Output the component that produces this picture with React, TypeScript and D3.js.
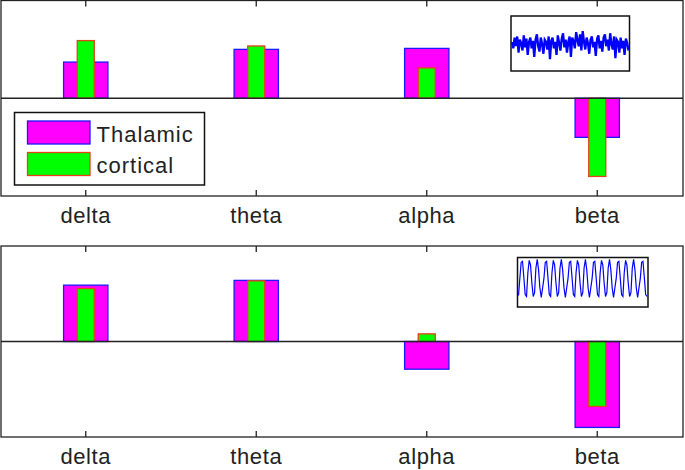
import React from "react";
import * as d3 from "d3";

const width = 685;
const height = 470;

// Frequency bands
const bands = ["delta", "theta", "alpha", "beta"];
const seriesNames = ["Thalamic", "cortical"];

// Top panel (irregular input)
const topThalamic = [0.37, 0.5, 0.51, -0.4];
const topCortical = [0.59, 0.535, 0.31, -0.8];

// Bottom panel (periodic input)
const bottomThalamic = [0.59, 0.64, -0.29, -0.9];
const bottomCortical = [0.555, 0.635, 0.08, -0.68];

// Inset traces
const noiseTrace = [
  0.1, -0.2, 0.3, -0.1, 0.35, -0.4, 0.2, 0.05, -0.3, 0.4, -0.15, 0.25, -0.5, 0.1,
  0.3, -0.2, 0.15, -0.6, 0.2, 0.45, -0.1, -0.35, 0.3, 0.0, -0.45, 0.2, 0.1, -0.25,
  0.35, -0.7, 0.15, 0.3, -0.2, 0.1, -0.5, 0.4, 0.05, -0.3, 0.25, 0.5, -0.15, 0.2,
  -0.4, 0.1, 0.35, -0.6, 0.3, 0.15, -0.2, 0.55, 0.2, -0.1, 0.45, -0.3, 0.6, 0.1,
  -0.25, 0.3, 0.05, -0.45, 0.2, 0.35, -0.15, 0.1, -0.55, 0.25, 0.4, -0.2, 0.15,
  -0.35, 0.3, 0.45, -0.1, 0.2, -0.3, 0.5, 0.0, -0.25, 0.35, -0.65, 0.2, 0.1, -0.4,
  0.3, -0.2, 0.15, -0.5, 0.25, 0.05, -0.3,
];

const sineTrace = [
  -0.9, 0.0, 0.85, 0.9, 0.05, -0.85, -0.95, 0.3, 0.95, 0.7, -0.25, -0.95, -0.75,
  0.55, 1.0, 0.45, -0.5, -1.0, -0.5, 0.0, 0.85, 0.9, 0.05, -0.85, -0.95, 0.3,
  0.95, 0.7, -0.25, -0.95, -0.75, 0.55, 1.0, 0.45, -0.5, -1.0, -0.5, 0.0, 0.85,
  0.9, 0.05, -0.85, -0.95, 0.3, 0.95, 0.7, -0.25, -0.95, -0.75, 0.55, 1.0, 0.45,
  -0.5, -1.0, -0.5, 0.0, 0.85, 0.9, 0.05, -0.85, -0.95, 0.3, 0.95, 0.7, -0.25,
  -0.95, -0.75, 0.55, 1.0, 0.45, -0.5, -1.0, -0.5, 0.0, 0.85, 0.9, 0.05, -0.85,
  -0.95, 0.3, 0.95, 0.7, -0.25, -0.95, -0.75, 0.55, 1.0, 0.45, -0.5, -1.0, -0.5,
  0.0, 0.85, 0.9, 0.05, -0.85, -0.95,
];

const left = 1;
const right = 683;
const font = "'Liberation Sans', Arial, sans-serif";

const xScale = d3
  .scaleLinear()
  .domain([0.5, bands.length + 0.5])
  .range([left - 0.5, right - 0.5]);

const thalamicWidth = 0.26;
const corticalWidth = 0.1;

type PanelProps = {
  top: number;
  bottom: number;
  thalamic: number[];
  cortical: number[];
  inset: { x0: number; x1: number; y0: number; y1: number; yDomain: [number, number] };
  trace: number[];
  traceWidth: number;
  legend?: boolean;
};

function Panel({ top, bottom, thalamic, cortical, inset, trace, traceWidth, legend }: PanelProps) {
  const yScale = d3.scaleLinear().domain([-1, 1]).range([bottom, top]);
  const zero = yScale(0);

  const tx = d3
    .scaleLinear()
    .domain([0, trace.length - 1])
    .range([inset.x0 + 1, inset.x1 - 1]);
  const ty = d3.scaleLinear().domain(inset.yDomain).range([inset.y1, inset.y0]);
  const tracePath = d3
    .line<number>()
    .x((_, i) => tx(i))
    .y(d => ty(d))(trace);

  const bar = (v: number, i: number, w: number) => {
    const x0 = xScale(i + 1 - w / 2);
    const x1 = xScale(i + 1 + w / 2);
    return {
      x: x0,
      width: x1 - x0,
      y: Math.min(yScale(v), zero),
      height: Math.abs(yScale(v) - zero),
    };
  };

  return (
    <g>
      {/* Bars */}
      {thalamic.map((v, i) => {
        const b = bar(v, i, thalamicWidth);
        return (
          <rect key={"t" + i} x={b.x} y={b.y} width={b.width} height={b.height}
            fill="#ff00ff" stroke="#1a1aff" strokeWidth={1.3} />
        );
      })}
      {cortical.map((v, i) => {
        const b = bar(v, i, corticalWidth);
        return (
          <rect key={"c" + i} x={b.x} y={b.y} width={b.width} height={b.height}
            fill="#00ff00" stroke="#e8401a" strokeWidth={1.3} />
        );
      })}

      {/* Zero line */}
      <line x1={left} x2={right} y1={zero} y2={zero} stroke="#222" strokeWidth={1.3} />

      {/* Axes box */}
      <rect x={left} y={top} width={right - left} height={bottom - top}
        fill="none" stroke="#222" strokeWidth={1.3} />

      {/* Ticks and labels */}
      {bands.map((b, i) => (
        <g key={b}>
          <line x1={xScale(i + 1)} x2={xScale(i + 1)} y1={top} y2={top + 6} stroke="#222" strokeWidth={1.3} />
          <line x1={xScale(i + 1)} x2={xScale(i + 1)} y1={bottom} y2={bottom - 6} stroke="#222" strokeWidth={1.3} />
          <text x={xScale(i + 1)} y={bottom + 26.5} textAnchor="middle" fontSize={22}
            fontFamily={font} fill="#222" letterSpacing={0.6}>
            {b}
          </text>
        </g>
      ))}

      {/* Inset trace */}
      <rect x={inset.x0} y={inset.y0} width={inset.x1 - inset.x0} height={inset.y1 - inset.y0}
        fill="#fff" stroke="#111" strokeWidth={1.5} />
      <path d={tracePath ?? ""} fill="none" stroke="#0000ff" strokeWidth={traceWidth} />

      {/* Legend */}
      {legend && (
        <g>
          <rect x={14.5} y={112.5} width={190} height={72.5} fill="#fff" stroke="#111" strokeWidth={1.5} />
          {seriesNames.map((name, i) => (
            <g key={name}>
              <rect x={27.5} y={121 + i * 31.5} width={62.5} height={23}
                fill={i === 0 ? "#ff00ff" : "#00ff00"}
                stroke={i === 0 ? "#1a1aff" : "#e8401a"} strokeWidth={1.3} />
              <text x={96.5} y={141.5 + i * 31} fontSize={22} fontFamily={font}
                fill="#222" letterSpacing={1}>
                {name}
              </text>
            </g>
          ))}
        </g>
      )}
    </g>
  );
}

export default function App() {
  return (
    <svg width={width} height={height}
      style={{ position: "absolute", left: 0, top: 0, background: "#fff" }}>
      <Panel top={0.5} bottom={196} thalamic={topThalamic} cortical={topCortical}
        inset={{ x0: 511, x1: 629.5, y0: 16, y1: 71, yDomain: [-1.25, 1.3] }}
        trace={noiseTrace} traceWidth={2.3} legend />
      <Panel top={246} bottom={437} thalamic={bottomThalamic} cortical={bottomCortical}
        inset={{ x0: 517.5, x1: 648, y0: 257.5, y1: 307, yDomain: [-1.5, 1.1] }}
        trace={sineTrace} traceWidth={1.2} />
    </svg>
  );
}
